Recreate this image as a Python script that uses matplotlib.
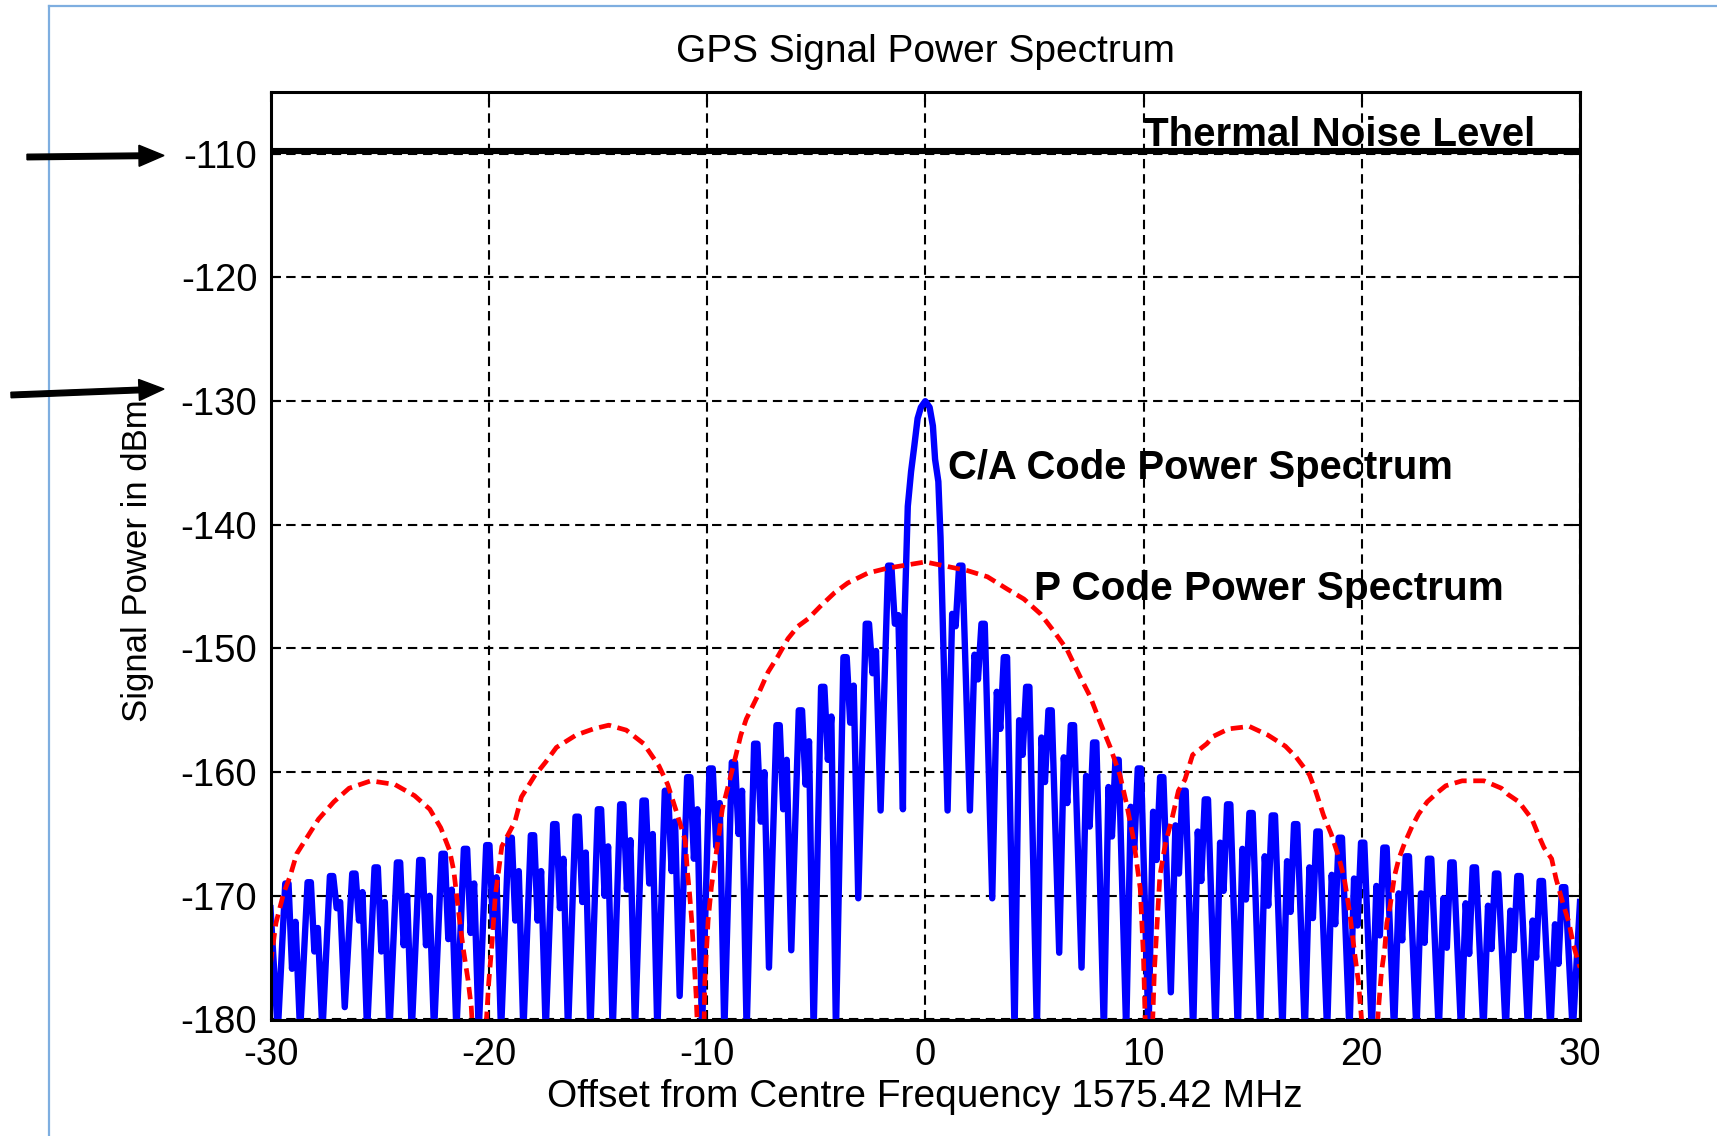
import matplotlib
matplotlib.use("Agg")
import matplotlib.pyplot as plt
from matplotlib.patches import FancyArrow
from matplotlib.lines import Line2D
from matplotlib.transforms import IdentityTransform, offset_copy

plt.rcParams['font.family'] = ['Liberation Sans', 'DejaVu Sans']
plt.rcParams['axes.unicode_minus'] = False

# ---------------- data ----------------
x_ticks = [-30, -20, -10, 0, 10, 20, 30]
y_ticks = [-180, -170, -160, -150, -140, -130, -120, -110]
noise_level = -110

# C/A code: main lobe vertices
ca_main_f = [-0.95, -0.8, -0.65, -0.5, -0.35, -0.2, 0.0, 0.2, 0.35, 0.45, 0.6, 0.7, 0.8]
ca_main_db = [-147.7, -138.5, -135.7, -133.6, -131.4, -130.5, -130.0, -130.5, -132.0, -134.7, -136.5, -141.0, -147.7]

# C/A code: null frequencies (|f|, MHz)
ca_null_f = [1.023, 2.046, 3.069, 4.092, 5.115, 6.138, 7.161, 8.184, 9.207, 10.23,
             11.253, 12.276, 13.299, 14.322, 15.345, 16.368, 17.391, 18.414, 19.437, 20.46,
             21.483, 22.506, 23.529, 24.552, 25.575, 26.598, 27.621, 28.644, 29.667]

# depth at each null (left side = negative f, right side = positive f)
ca_null_left_db = [-163.0, -163.1, -170.2, -181, -181, -174.4, -175.8, -181, -181, -181,
                   -178.1, -181, -181, -181, -181, -181, -181, -181, -181, -181,
                   -181, -181, -181, -181, -181, -179.0, -181, -181, -181]
ca_null_right_db = [-163.1, -163.1, -170.2, -181, -181, -174.6, -175.8, -181, -181, -181,
                    -177.8, -181, -181, -181, -181, -181, -181, -181, -181, -181,
                    -181, -181, -181, -181, -181, -181, -181, -181, -181]

# sidelobe peaks, inner humps and notches (lobes 1..28)
ca_peak_left_db = [-143.3, -148.0, -150.7, -153.1, -155.0, -156.2, -157.7, -159.2, -159.7, -160.4,
                   -161.5, -162.3, -162.6, -163.0, -163.6, -164.2, -165.1, -165.3, -165.9, -166.2,
                   -166.6, -167.1, -167.3, -167.7, -168.2, -168.4, -168.9, -169.0]
ca_hump_left_db = [-147.3, -150.2, -153.0, -155.5, -157.5, -159.0, -160.0, -161.5, -162.5, -163.0,
                   -164.0, -165.0, -165.5, -166.0, -166.5, -167.0, -168.0, -168.0, -168.5, -169.0,
                   -169.5, -170.0, -170.0, -170.5, -169.7, -170.5, -172.6, -172.1]
ca_notch_left_db = [-148.0, -152.0, -156.0, -159.0, -161.0, -163.0, -164.0, -165.0, -166.0, -167.0,
                    -168.0, -169.0, -169.5, -170.0, -170.5, -171.0, -172.0, -172.0, -172.5, -173.0,
                    -173.5, -174.0, -174.0, -174.5, -172.0, -171.0, -174.5, -175.9]
ca_peak_right_db = [-143.3, -148.0, -150.7, -153.1, -155.0, -156.2, -157.6, -159.0, -159.7, -160.4,
                    -161.5, -162.2, -162.6, -163.3, -163.5, -164.2, -164.8, -165.3, -165.7, -166.1,
                    -166.8, -167.0, -167.3, -167.7, -168.2, -168.4, -168.8, -169.3]
ca_hump_right_db = [-147.2, -150.5, -153.5, -155.8, -157.2, -158.8, -160.3, -161.2, -162.8, -163.2,
                    -164.3, -164.8, -165.7, -166.2, -166.8, -167.2, -167.7, -168.3, -168.6, -169.2,
                    -169.8, -169.8, -170.2, -170.6, -170.8, -171.2, -172.0, -172.3]
ca_notch_right_db = [-148.2, -152.5, -156.5, -158.6, -160.8, -162.5, -164.4, -165.2, -166.3, -167.1,
                     -168.2, -168.8, -169.6, -170.3, -170.8, -171.3, -171.8, -172.3, -172.4, -173.2,
                     -173.6, -173.8, -174.2, -174.7, -174.3, -174.4, -175.0, -175.5]
ca_edge_left_db = -171.0   # value at -30 MHz
ca_edge_right_db = -170.5  # value at +30 MHz

# P code power spectrum (dashed red)
p_f = [-30.0, -29.75, -29.4, -29.1, -28.8, -28.3, -27.8, -27.1, -26.4, -25.4,
       -24.3, -23.4, -22.7, -22.2, -21.8, -21.6, -21.45, -21.3, -21.15, -20.95,
       -20.8, -20.46, -20.0, -19.85, -19.7, -19.4, -18.8, -18.5, -17.9, -17.4,
       -16.9, -16.0, -15.2, -14.5, -13.7, -12.9, -12.2, -11.8, -11.4, -11.0,
       -10.9, -10.8, -10.7, -10.6, -10.5, -10.23, -10.1, -9.95, -9.8, -9.6,
       -9.45, -9.3, -9.1, -8.9, -8.7, -8.45, -8.2, -7.7, -7.2, -6.74,
       -6.29, -5.83, -5.37, -4.76, -4.16, -3.55, -2.63, -1.72, 0.0,
       1.93, 2.85, 3.76, 4.52, 5.28, 5.89, 6.5, 7.1, 7.56, 8.02,
       8.48, 8.93, 9.24, 9.54, 9.85, 10.0, 10.23, 10.5, 10.75, 11.0,
       11.3, 11.6, 11.9, 12.25, 12.9, 13.2, 13.9, 14.85, 15.7, 16.5,
       17.0, 17.6, 17.9, 18.25, 18.6, 18.95, 19.2, 19.45, 19.65, 19.85,
       20.46, 20.75, 20.9, 21.05, 21.15, 21.3, 21.5, 21.7, 21.95, 22.3,
       22.6, 23.0, 23.5, 23.85, 24.6, 25.6, 26.4, 26.7, 27.2, 27.8,
       28.1, 28.35, 28.7, 28.9, 29.2, 29.5, 29.7, 30.0]
p_db = [-175.5, -172.2, -169.8, -168.4, -166.6, -165.2, -163.8, -162.4, -161.3, -160.7,
        -161.0, -161.9, -163.0, -164.5, -166.3, -168.0, -170.3, -172.5, -174.5, -176.8,
        -179.0, -190.0, -177.0, -173.8, -170.0, -166.0, -164.0, -162.0, -160.3, -159.2,
        -158.0, -157.0, -156.5, -156.2, -156.6, -157.7, -159.5, -161.0, -163.2, -165.5,
        -168.0, -169.8, -172.0, -175.0, -178.0, -190.0, -177.0, -172.0, -169.3, -166.8,
        -165.0, -163.0, -161.6, -160.2, -158.8, -157.0, -155.7, -153.9, -151.9, -150.6,
        -149.2, -148.2, -147.6, -146.5, -145.5, -144.7, -143.9, -143.5, -143.0,
        -143.7, -144.2, -145.2, -146.0, -147.2, -148.6, -150.1, -152.3, -153.9, -156.0,
        -158.0, -160.3, -162.7, -165.4, -169.4, -175.0, -190.0, -176.0, -168.4, -165.8,
        -163.8, -161.5, -160.6, -158.6, -157.7, -157.1, -156.5, -156.3, -157.0, -157.9,
        -158.8, -160.2, -161.6, -163.5, -165.0, -166.9, -168.6, -171.4, -174.3, -177.0,
        -190.0, -179.5, -176.2, -174.3, -172.2, -170.8, -168.4, -167.0, -165.8, -164.4,
        -163.4, -162.4, -161.6, -161.1, -160.7, -160.7, -161.3, -161.8, -162.4, -163.8,
        -165.1, -166.1, -167.0, -168.6, -170.5, -172.2, -174.0, -175.8]

# ---------------- assemble C/A curve ----------------
# shape within one lobe: null, inner hump, notch, peak (flat top)
lobe_offsets = (0.0, 0.21, 0.37, 0.53, 0.68)


def side_vertices(nulls_db, hump_db, notch_db, peak_db, edge_db):
    pts = []
    for k in range(len(peak_db)):
        a = ca_null_f[k]
        vals = (nulls_db[k], hump_db[k], notch_db[k], peak_db[k], peak_db[k])
        for off, v in zip(lobe_offsets, vals):
            pts.append((a + off, v))
    pts.append((ca_null_f[-1], nulls_db[-1]))
    pts.append((30.0, edge_db))
    return pts


right_pts = side_vertices(ca_null_right_db, ca_hump_right_db, ca_notch_right_db,
                          ca_peak_right_db, ca_edge_right_db)
left_pts = side_vertices(ca_null_left_db, ca_hump_left_db, ca_notch_left_db,
                         ca_peak_left_db, ca_edge_left_db)
left_pts = [(-f, v) for f, v in reversed(left_pts)]

ca_f = [p[0] for p in left_pts] + ca_main_f + [p[0] for p in right_pts]
ca_db = [p[1] for p in left_pts] + ca_main_db + [p[1] for p in right_pts]

# ---------------- figure ----------------
W, H = 1717, 1136
fig = plt.figure(figsize=(W / 100, H / 100), dpi=100)
fig.patch.set_facecolor('white')
ax = fig.add_axes([270.5 / W, 1 - 1019.5 / H, (1580 - 270.5) / W, (1019.5 - 92) / H])

ax.plot(ca_f, ca_db, color='#0000ff', lw=4.6, zorder=3)
ax.plot(p_f, p_db, color='#ff0000', lw=3.4, linestyle=(0, (2.6, 1.4)), zorder=4)

noise_tr = offset_copy(ax.transData, fig=fig, x=0, y=3, units='dots')
ax.plot([-30, 30], [noise_level, noise_level], color='black', lw=4.4,
        transform=noise_tr, zorder=5, solid_capstyle='butt')

ax.set_xlim(-30, 30)
ax.set_ylim(-180, -105)
ax.set_xticks(x_ticks)
ax.set_yticks(y_ticks)
ax.set_xticklabels([str(v) for v in x_ticks])
ax.set_yticklabels([str(v) for v in y_ticks])
ax.grid(True, color='black', lw=1.5, linestyle=(0, (4.5, 2.8)))
ax.tick_params(axis='both', direction='in', length=7, width=1.5, top=True, right=True,
               labelsize=27.5, colors='black')
ax.tick_params(axis='y', pad=9.5)
ax.tick_params(axis='x', pad=12.5)
for sp in ax.spines.values():
    sp.set_linewidth(2.2)
    sp.set_color('black')
    sp.set_zorder(6)

# annotations
ax.text(10.0, -109.4, 'Thermal Noise Level', fontsize=29, fontweight='bold',
        ha='left', va='baseline', zorder=7)
ax.text(1.05, -136.3, 'C/A Code Power Spectrum', fontsize=28.8, fontweight='bold',
        ha='left', va='baseline', zorder=7)
ax.text(5.0, -146.1, 'P Code Power Spectrum', fontsize=29.2, fontweight='bold',
        ha='left', va='baseline', zorder=7)

# titles / labels
fig.text(925 / W, 1 - 51.5 / H, 'GPS Signal Power Spectrum', fontsize=28,
         ha='center', va='center')
fig.text(925 / W, 1 - 1097 / H, 'Offset from Centre Frequency 1575.42 MHz', fontsize=28,
         ha='center', va='center')
fig.text(137 / W, 1 - 561 / H, 'Signal Power in dBm', fontsize=25, rotation=90,
         ha='center', va='center')

# light blue slide frame
frame_c = '#7eaee0'
fig.add_artist(Line2D([49 / W, 49 / W], [0, 1 - 5.5 / H], color=frame_c, lw=1.6,
                      transform=fig.transFigure))
fig.add_artist(Line2D([49 / W, 1], [1 - 5.5 / H, 1 - 5.5 / H], color=frame_c, lw=1.6,
                      transform=fig.transFigure))

# arrows pointing at -110 and -130
for (x0, y0, x1, y1) in [(27, 157, 164, 155.5), (11, 395, 164, 389)]:
    arr = FancyArrow(x0, H - y0, x1 - x0, -(y1 - y0), width=5.5, head_width=21,
                     head_length=25, length_includes_head=True, color='black',
                     transform=IdentityTransform(), zorder=10)
    fig.add_artist(arr)

fig.savefig('out.png', dpi=100)
